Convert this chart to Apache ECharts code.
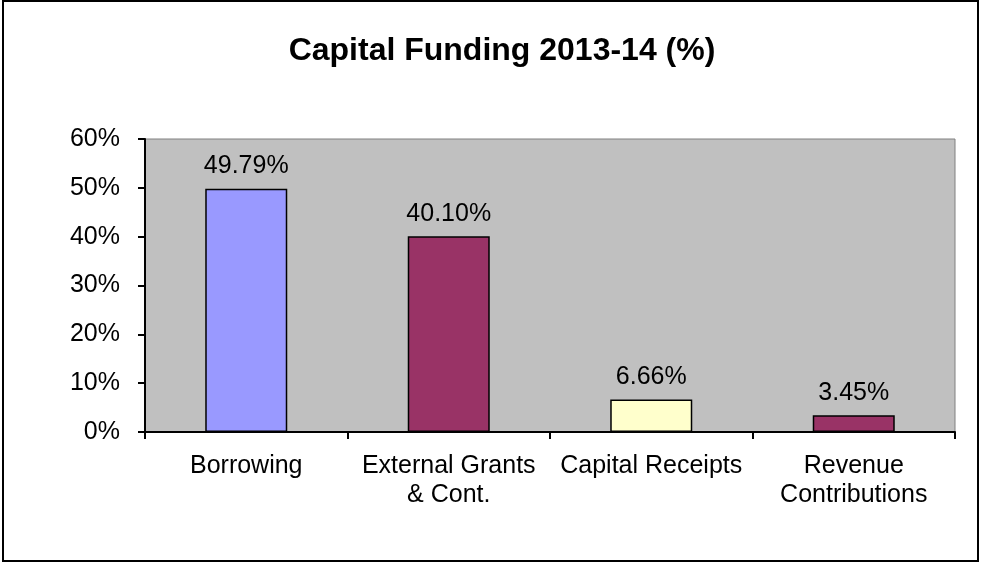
<!DOCTYPE html>
<html><head><meta charset="utf-8">
<script src="https://cdn.jsdelivr.net/npm/echarts@6/dist/echarts.min.js"></script>
<style>html,body{margin:0;padding:0;background:#fff}#c{width:983px;height:564px}</style>
</head><body><div id="c"></div>
<script>
const categories = ['Borrowing', 'External Grants\n& Cont.', 'Capital Receipts', 'Revenue\nContributions'];
const values = [49.79, 40.10, 6.66, 3.45];
const barColors = ['#9999FF', '#993366', '#FFFFCC', '#993366'];
const yTicks = [0, 10, 20, 30, 40, 50, 60];

const chart = echarts.init(document.getElementById('c'));
chart.setOption({
  animation: false,
  backgroundColor: '#fff',
  textStyle: { fontFamily: 'Liberation Sans, Arial, sans-serif' },
  title: {
    text: 'Capital Funding 2013-14 (%)',
    left: 497, top: 30, textAlign: 'center',
    textStyle: { fontSize: 32, fontWeight: 'bold', color: '#000', fontFamily: 'Liberation Sans, Arial, sans-serif' }
  },
  graphic: [{
    type: 'rect', silent: true,
    shape: { x: 3, y: 1, width: 975, height: 560 },
    style: { fill: 'none', stroke: '#000', lineWidth: 2 }
  }],
  grid: {
    left: 145, right: 28, top: 139, bottom: 132,
    show: true, backgroundColor: '#C0C0C0', borderColor: '#808080', borderWidth: 1
  },
  xAxis: {
    type: 'category', data: categories,
    axisLine: { lineStyle: { color: '#000', width: 2 } },
    axisTick: { show: true, length: 7, alignWithLabel: false, lineStyle: { color: '#000', width: 2 } },
    axisLabel: { color: '#000', fontSize: 25, margin: 20, lineHeight: 29, interval: 0 },
    splitLine: { show: false }
  },
  yAxis: {
    type: 'value', min: 0, max: 60, interval: 10,
    axisLine: { show: true, lineStyle: { color: '#000', width: 2 } },
    axisTick: { show: true, length: 7, lineStyle: { color: '#000', width: 2 } },
    axisLabel: { color: '#000', fontSize: 25, margin: 25, formatter: v => yTicks.includes(v) ? v + '%' : '' },
    splitLine: { show: false }
  },
  series: [{
    type: 'bar',
    data: values.map((v, i) => ({ value: v, itemStyle: { color: barColors[i] } })),
    barWidth: '40.5%',
    itemStyle: { borderColor: '#000', borderWidth: 1.5 },
    label: { show: true, position: 'top', distance: 10, color: '#000', fontSize: 25,
      formatter: p => p.value.toFixed(2) + '%' }
  }]
});
</script></body></html>
